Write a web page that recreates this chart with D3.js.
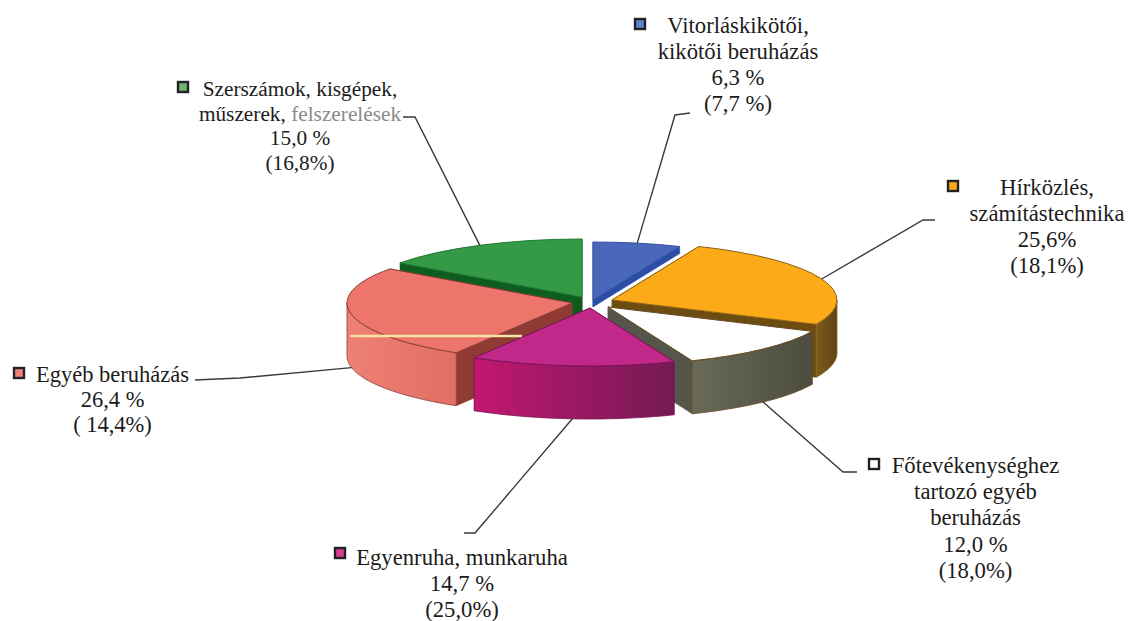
<!DOCTYPE html>
<html><head><meta charset="utf-8">
<script src="https://cdn.jsdelivr.net/npm/d3@7"></script>
<style>html,body{margin:0;padding:0;background:#fff}svg{display:block}text{font-family:"Liberation Serif",serif;fill:#1c1c1c}</style>
</head><body><svg id="c" width="1132" height="621"></svg>
<script>
// --- data (clockwise from 12 o'clock) ---
const categories = ["Vitorláskikötői, kikötői beruházás","Hírközlés, számítástechnika","Főtevékenységhez tartozó egyéb beruházás","Egyenruha, munkaruha","Egyéb beruházás","Szerszámok, kisgépek, műszerek, felszerelések"];
const shares = [6.3,25.6,12.0,14.7,26.4,15.0];
const shareLabels = ["6,3 %","25,6%","12,0 %","14,7 %","26,4 %","15,0 %"];
const previousLabels = ["(7,7 %)","(18,1%)","(18,0%)","(25,0%)","( 14,4%)","(16,8%)"];
const nameLines = [["Vitorláskikötői,","kikötői beruházás"],["Hírközlés,","számítástechnika"],["Főtevékenységhez","tartozó egyéb","beruházás"],["Egyenruha, munkaruha"],["Egyéb beruházás"],["Szerszámok, kisgépek,","műszerek, felszerelések"]];
const topColors = ["#4a68bb","#fcaa17","#ffffff","#c2288a","#ee756c","#349a48"];
const edgeColors = ["#3a52a0","#8a6418","#6b4a20","#7a1458","#8a3f38","#1f7a30"];
const cutColors = ["#2a4da6","#6d4c12","#55554a","#7a1a55","#8f3a32","#0f5c20"];
const wallLight = ["#2a4da6","#7d5c1c","#6a6a58","#c2176f","#ee8074","#0f5c20"];
const wallDark = ["#2a4da6","#5f4512","#4c4c3f","#741a55","#e26e64","#0f5c20"];
const markerColors = ["#5f7fc8","#fcaa17","#ffffff","#d8408f","#ee8078","#6cb56f"];

// --- layout ---
const rx=225, ry=58, depth=53;
const cutDepths=[7,53,53,53,53,53];
const apexes=[[593,300],[612,300],[608,307],[590,308],[572,303],[582,297]];
const drawOrder=[5,0,4,1,2,3];
const labelBlocks=[
 {cx:738,y:33,step:26,mx:640,my:24,fs:22.7},
 {cx:1047,y:195,step:26,mx:953,my:186,fs:22.7},
 {cx:975.5,y:473,step:26.2,mx:874,my:464,fs:22.7},
 {cx:462,y:565,step:26,mx:340,my:553,fs:22.7},
 {cx:112.5,y:382,step:25,mx:19,my:373,fs:22.5},
 {cx:300,y:96,step:24.7,mx:183,my:87,fs:21.3}];
const leaderElbows=[[[675,115],[690,113]],[[923,220],[935,220]],[[843,472],[857,472]],[[475,533],[464,533]],[[240,378],[195,380]],[[415,117],[403,117]]];
const leaderOnWall=[false,false,true,true,true,false];

const svg=d3.select("#c");
const pie=d3.pie().sort(null).value(d=>d).startAngle(0).endAngle(2*Math.PI);
const arcs=pie(shares);
const arcGen=d3.arc().innerRadius(0).outerRadius(rx);
const pt=(i,a,dz=0)=>[apexes[i][0]+rx*Math.sin(a),apexes[i][1]-ry*Math.cos(a)+dz];
const line=d3.line();

const defs=svg.append("defs");
arcs.forEach((d,i)=>{
  const g=defs.append("linearGradient").attr("id","w"+i).attr("x1",0).attr("x2",1).attr("y1",0).attr("y2",0);
  g.append("stop").attr("offset",0).attr("stop-color",wallLight[i]);
  g.append("stop").attr("offset",1).attr("stop-color",wallDark[i]);
});

const pieG=svg.append("g");
drawOrder.forEach(i=>{
  const d=arcs[i], g=pieG.append("g"), cd=cutDepths[i];
  [d.endAngle,d.startAngle].forEach(a=>{
    g.append("path").attr("d",line([[apexes[i][0],apexes[i][1]],pt(i,a),pt(i,a,cd),[apexes[i][0],apexes[i][1]+cd]])+"Z")
     .attr("fill",cutColors[i]).attr("stroke",cutColors[i]).attr("stroke-width",.5);
  });
  const a0=Math.max(d.startAngle,Math.PI/2), a1=Math.min(d.endAngle,3*Math.PI/2);
  if(a1>a0){
    const ts=d3.range(0,41).map(k=>a0+(a1-a0)*k/40);
    const upper=ts.map(a=>pt(i,a)), lower=ts.map(a=>pt(i,a,depth)).reverse();
    g.append("path").attr("d",line(upper.concat(lower))+"Z").attr("fill",`url(#w${i})`).attr("stroke",edgeColors[i]).attr("stroke-width",.8);
  }
  g.append("path").attr("d",arcGen(d))
   .attr("transform",`translate(${apexes[i][0]},${apexes[i][1]}) scale(1,${ry/rx})`)
   .attr("fill",topColors[i]).attr("stroke",edgeColors[i]).attr("stroke-width",1).attr("vector-effect","non-scaling-stroke");
});

// scan streak across the salmon slice
const streakY=apexes[4][1]+33;
svg.append("line").attr("x1",apexes[4][0]-rx+3).attr("x2",apexes[3][0]-68).attr("y1",streakY).attr("y2",streakY)
  .attr("stroke","#f3e4a6").attr("stroke-width",2.5);

// leaders start on the slice at its mid-angle
arcs.forEach((d,i)=>{
  const m=(d.startAngle+d.endAngle)/2;
  const start=pt(i,m,leaderOnWall[i]?depth:0);
  svg.append("path").attr("d",line([start,...leaderElbows[i]])).attr("fill","none").attr("stroke","#3a3a3a").attr("stroke-width",1.4);
});

// labels
labelBlocks.forEach((b,i)=>{
  const lines=[...nameLines[i],shareLabels[i],previousLabels[i]];
  lines.forEach((t,k)=>{
    const el=svg.append("text").attr("x",b.cx).attr("y",b.y+k*b.step).attr("text-anchor","middle").style("font-size",b.fs+"px");
    if(t.includes("felszerelések")){
      el.append("tspan").text("műszerek, ");
      el.append("tspan").text("felszerelések").style("fill","#8a8a8a");
    } else el.text(t);
  });
  svg.append("rect").attr("x",b.mx-5).attr("y",b.my-5).attr("width",10).attr("height",10)
    .attr("fill",markerColors[i]).attr("stroke","#222").attr("stroke-width",2.4);
});
</script></body></html>
